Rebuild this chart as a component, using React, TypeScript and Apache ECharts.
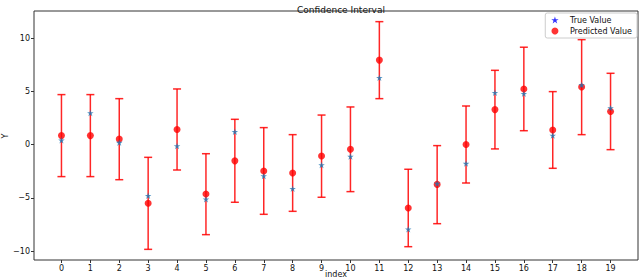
import React, { useEffect, useRef } from "react";
import * as echarts from "echarts";

const indices = [0, 1, 2, 3, 4, 5, 6, 7, 8, 9, 10, 11, 12, 13, 14, 15, 16, 17, 18, 19];
const trueValues = [0.42, 2.98, 0.19, -4.79, -0.12, -5.13, 1.22, -2.94, -4.13, -1.91, -1.12, 6.29, -7.94, -3.66, -1.78, 4.88, 4.79, 0.85, 5.6, 3.45];
const predicted = [0.85, 0.85, 0.52, -5.5, 1.42, -4.64, -1.52, -2.47, -2.66, -1.07, -0.43, 7.94, -5.94, -3.73, 0.02, 3.29, 5.23, 1.38, 5.41, 3.11];
const lower = [-3.0, -3.0, -3.29, -9.83, -2.38, -8.45, -5.41, -6.54, -6.26, -4.94, -4.41, 4.32, -9.58, -7.42, -3.6, -0.4, 1.31, -2.22, 0.94, -0.47];
const upper = [4.7, 4.7, 4.32, -1.19, 5.23, -0.85, 2.38, 1.6, 0.94, 2.78, 3.54, 11.55, -2.31, -0.09, 3.63, 6.98, 9.15, 4.98, 9.86, 6.7];
const xTicks = indices;
const yTicks = [-10, -5, 0, 5, 10];
const xName = "index";
const yName = "Y";

const STAR =
  "path://M0,-1L0.2245,-0.309L0.9511,-0.309L0.3633,0.118L0.5878,0.809L0,0.382L-0.5878,0.809L-0.3633,0.118L-0.9511,-0.309L-0.2245,-0.309Z";

const FONT = "DejaVu Sans";

export default function App() {
  const ref = useRef<HTMLDivElement>(null);
  useEffect(() => {
    if (!ref.current) return;
    const chart = echarts.init(ref.current, null, { renderer: "svg" });
    const fmt = (v: number) => String(v).replace("-", "\u2212");
    chart.setOption({
      animation: false,
      title: {
        text: "Confidence Interval",
        left: 336,
        top: 0,
        textAlign: "center",
        textStyle: { fontFamily: FONT, fontSize: 9, fontWeight: "normal", color: "#111" },
      },
      legend: {
        right: 3,
        top: 13,
        orient: "vertical",
        itemWidth: 8,
        itemHeight: 7,
        itemGap: 3,
        padding: [3, 5, 3, 6],
        borderColor: "#cccccc",
        borderWidth: 1,
        borderRadius: 2,
        backgroundColor: "#ffffff",
        textStyle: { fontFamily: FONT, fontSize: 8, color: "#111", padding: [0, 0, 0, 6] },
        data: [
          { name: "True Value", icon: STAR, itemStyle: { color: "#0000ff" } },
          { name: "Predicted Value", icon: "circle", itemStyle: { color: "#ff0000" } },
        ],
      },
      graphic: [
        {
          type: "text",
          x: 336,
          y: 274,
          style: {
            text: xName,
            fontFamily: FONT,
            fontSize: 8,
            fill: "#111",
            align: "center",
            verticalAlign: "middle",
          },
        },
        {
          type: "text",
          x: 5,
          y: 136,
          rotation: Math.PI / 2,
          style: {
            text: yName,
            fontFamily: FONT,
            fontSize: 8,
            fill: "#111",
            align: "center",
            verticalAlign: "middle",
          },
        },
      ],
      grid: {
        left: 34,
        right: 2,
        top: 11,
        bottom: 20,
        containLabel: false,
        outerBoundsMode: "none",
        show: true,
        borderColor: "#333",
        borderWidth: 1,
        backgroundColor: "transparent",
      },
      xAxis: {
        type: "value",
        min: -0.95,
        max: 19.95,
        axisLine: { show: false, onZero: false },
        splitLine: { show: false },
        axisTick: { show: true, customValues: xTicks, length: 3, lineStyle: { color: "#333" } },
        axisLabel: {
          customValues: xTicks,
          fontFamily: FONT,
          fontSize: 8,
          color: "#111",
          margin: 4,
          formatter: fmt,
        },
      },
      yAxis: {
        type: "value",
        min: -10.83,
        max: 12.55,
        axisLine: { show: false, onZero: false },
        splitLine: { show: false },
        axisTick: { show: true, customValues: yTicks, length: 3, lineStyle: { color: "#333" } },
        axisLabel: {
          customValues: yTicks,
          fontFamily: FONT,
          fontSize: 8,
          color: "#111",
          margin: 4,
          formatter: fmt,
        },
      },
      series: [
        {
          type: "custom",
          name: "Interval",
          data: indices.map((x, i) => [x, lower[i], upper[i]]),
          encode: { x: 0, y: [1, 2] },
          z: 1,
          renderItem: (params: any, api: any) => {
            const x = api.value(0);
            const lo = api.coord([x, api.value(1)]);
            const hi = api.coord([x, api.value(2)]);
            const hw = 4;
            const style = { stroke: "#ff0000", lineWidth: 1.5, opacity: 0.85 };
            return {
              type: "group",
              children: [
                { type: "line", shape: { x1: lo[0], y1: lo[1], x2: hi[0], y2: hi[1] }, style },
                { type: "line", shape: { x1: hi[0] - hw, y1: hi[1], x2: hi[0] + hw, y2: hi[1] }, style },
                { type: "line", shape: { x1: lo[0] - hw, y1: lo[1], x2: lo[0] + hw, y2: lo[1] }, style },
              ],
            };
          },
        },
        {
          type: "scatter",
          name: "Predicted Value",
          data: indices.map((x, i) => [x, predicted[i]]),
          symbol: "circle",
          symbolSize: 7,
          itemStyle: { color: "#ff0000" },
          z: 2,
        },
        {
          type: "scatter",
          name: "True Value",
          data: indices.map((x, i) => [x, trueValues[i]]),
          symbol: STAR,
          symbolSize: 6.5,
          itemStyle: { color: "#1f77b4" },
          z: 3,
        },
      ],
    });
    return () => chart.dispose();
  }, []);
  return (
    <div
      ref={ref}
      style={{ position: "fixed", left: 0, top: 0, width: 640, height: 280, background: "#fff" }}
    />
  );
}
